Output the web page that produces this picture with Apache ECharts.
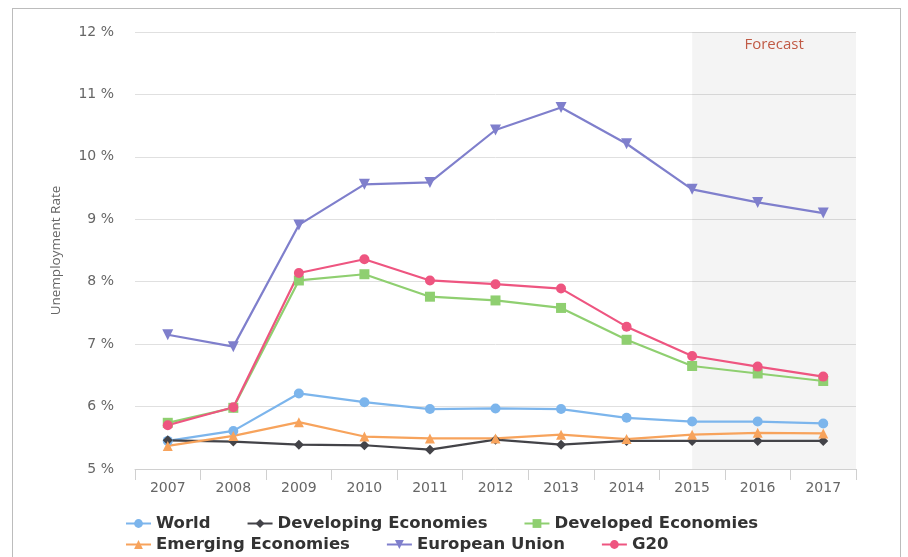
<!DOCTYPE html>
<html>
<head>
<meta charset="utf-8">
<script src="https://cdn.jsdelivr.net/npm/echarts@6/dist/echarts.min.js"></script>
<style>
html,body{margin:0;padding:0;background:#fff;}
#wrap{position:relative;width:908px;height:557px;overflow:hidden;}
#frame{position:absolute;left:12px;top:8px;width:889px;height:600px;border:1px solid #bcbcbc;box-sizing:border-box;}
#chart{position:absolute;left:0;top:0;width:908px;height:557px;}
</style>
</head>
<body>
<div id="wrap"><div id="frame"></div><div id="chart"></div></div>
<script>
var years = ['2007','2008','2009','2010','2011','2012','2013','2014','2015','2016','2017'];
var forecastStart = '2015';
var world      = [5.45, 5.61, 6.21, 6.07, 5.96, 5.97, 5.96, 5.82, 5.76, 5.76, 5.73];
var developing = [5.46, 5.44, 5.39, 5.38, 5.31, 5.47, 5.39, 5.45, 5.45, 5.45, 5.45];
var developed  = [5.74, 5.98, 8.02, 8.12, 7.76, 7.70, 7.58, 7.07, 6.65, 6.53, 6.41];
var emerging   = [5.37, 5.53, 5.75, 5.52, 5.49, 5.49, 5.55, 5.48, 5.55, 5.58, 5.57];
var eu         = [7.15, 6.96, 8.91, 9.56, 9.59, 10.43, 10.79, 10.21, 9.48, 9.27, 9.10];
var g20        = [5.70, 5.99, 8.14, 8.36, 8.02, 7.96, 7.89, 7.28, 6.81, 6.64, 6.48];
var yTicks = {min: 5, max: 12, interval: 1};

var chart = echarts.init(document.getElementById('chart'), null, {renderer: 'canvas'});
var fIdx = years.indexOf(forecastStart) + 0.5;

function mk(name, data, color, symbol, size) {
  return {
    name: name, type: 'line', data: data,
    symbol: symbol, symbolSize: size, showSymbol: true,
    lineStyle: {color: color, width: 2.2},
    itemStyle: {color: color},
    emphasis: {disabled: true},
    z: 3
  };
}
var legendText = {fontFamily: 'DejaVu Sans', fontWeight: 'bold', fontSize: 16.5, color: '#333'};
var option = {
  animation: false,
  grid: {left: 135, right: 52, top: 32, bottom: 88, containLabel: false},
  legend: [
    {data: ['World', 'Developing Economies', 'Developed Economies'], left: 125, top: 515,
     itemWidth: 25, itemHeight: 11, itemGap: 36, textStyle: legendText, padding: 0},
    {data: ['Emerging Economies', 'European Union', 'G20'], left: 125, top: 536,
     itemWidth: 25, itemHeight: 11, itemGap: 36, textStyle: legendText, padding: 0}
  ],
  xAxis: [
    {
      type: 'category', data: years, boundaryGap: true,
      axisLine: {show: true, lineStyle: {color: '#d0d0d0', width: 1}},
      axisTick: {show: true, length: 11, lineStyle: {color: '#d0d0d0'}},
      axisLabel: {color: '#666', fontFamily: 'DejaVu Sans', fontSize: 14, margin: 12},
      splitLine: {show: false}
    },
    {type: 'value', min: 0, max: years.length, show: false}
  ],
  yAxis: {
    type: 'value', min: yTicks.min, max: yTicks.max, interval: yTicks.interval,
    name: 'Unemployment Rate', nameLocation: 'middle', nameGap: 72, nameRotate: 90,
    nameTextStyle: {color: '#666', fontFamily: 'Open Sans', fontSize: 13.5},
    axisLine: {show: false}, axisTick: {show: false},
    axisLabel: {color: '#666', fontFamily: 'DejaVu Sans', fontSize: 14, margin: 21, formatter: '{value} %'},
    splitLine: {lineStyle: {color: '#e0e0e0', width: 1}}
  },
  series: [
    {
      name: 'forecast', type: 'line', xAxisIndex: 1, data: [[fIdx, yTicks.min]],
      symbol: 'none', lineStyle: {opacity: 0}, silent: true, z: 1,
      markArea: {
        silent: true,
        itemStyle: {color: 'rgba(0,0,0,0.045)'},
        label: {show: true, position: 'insideTop', distance: 5, color: '#c05a45',
                fontFamily: 'Open Sans', fontSize: 15, formatter: 'Forecast'},
        data: [[{xAxis: fIdx, yAxis: yTicks.min}, {xAxis: years.length, yAxis: yTicks.max}]]
      }
    },
    mk('World', world, '#7cb5ec', 'circle', 10),
    mk('Developing Economies', developing, '#434348', 'diamond', 10),
    mk('Developed Economies', developed, '#8fcf70', 'rect', 10),
    mk('Emerging Economies', emerging, '#f7a35c', 'triangle', 10),
    mk('European Union', eu, '#7f7fcc', 'path://M0,0 L10,0 L5,9 Z', 11),
    mk('G20', g20, '#ee5580', 'circle', 10)
  ]
};
chart.setOption(option);
</script>
</body>
</html>
